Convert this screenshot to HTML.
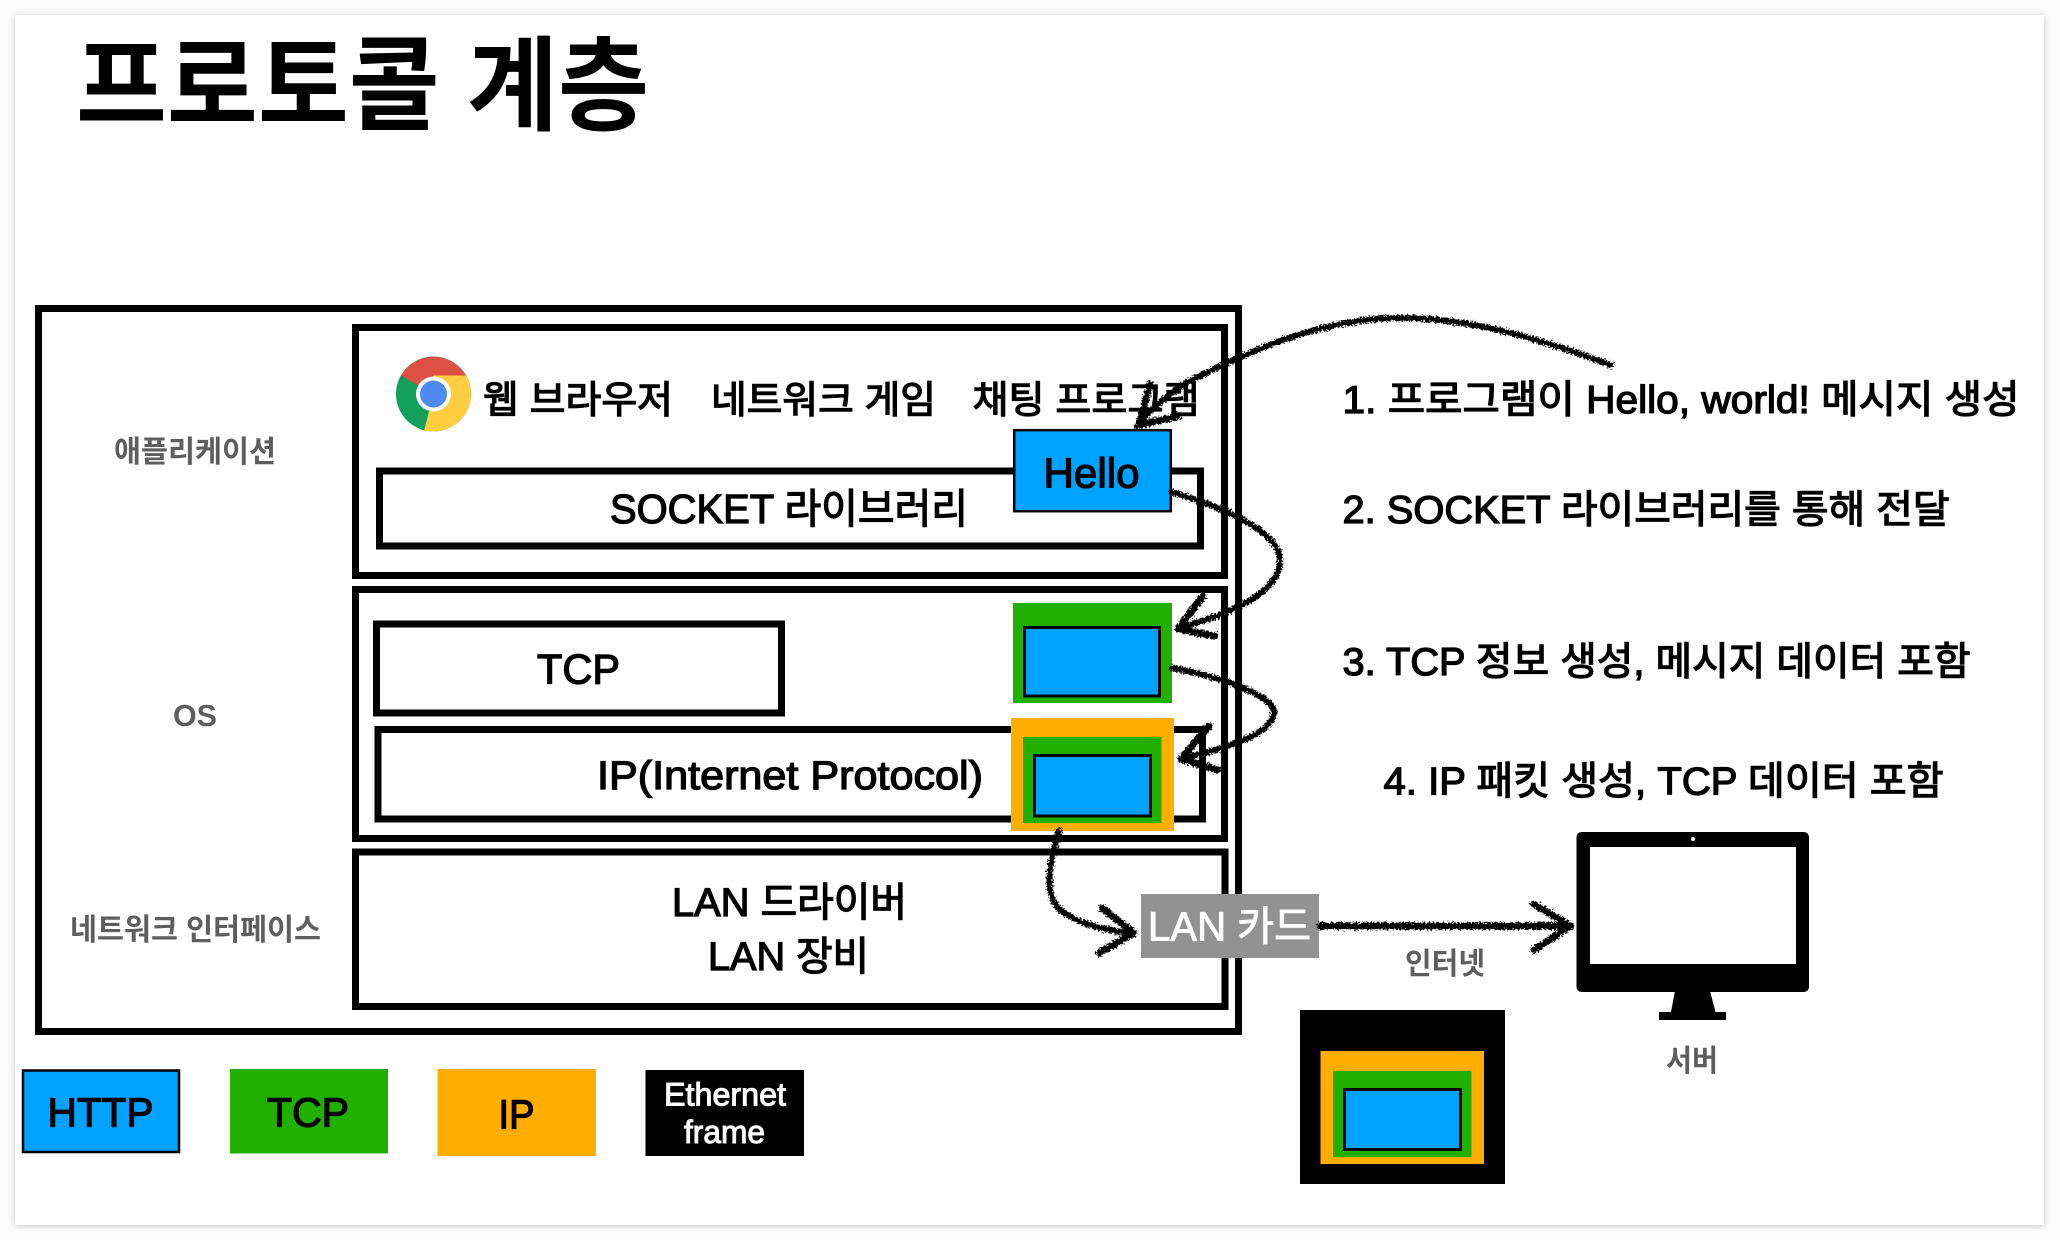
<!DOCTYPE html>
<html><head><meta charset="utf-8"><style>
html,body{margin:0;padding:0;background:#fbfbfb;width:2060px;height:1240px;overflow:hidden}
#card{position:absolute;left:15px;top:15px;width:2029px;height:1210px;background:#fff;box-shadow:0 1px 6px rgba(0,0,0,.22)}
svg{position:absolute;left:0;top:0}
text{font-family:"Liberation Sans","Noto Sans CJK KR",sans-serif;fill:#000}
.m{stroke:#000;stroke-width:1.3px}
.g{fill:#5e5e5e;font-weight:700}
.w{fill:#fff;stroke:#fff;stroke-width:1px}
</style></head><body><div id="card"></div>
<svg width="2060" height="1240" viewBox="0 0 2060 1240" xmlns="http://www.w3.org/2000/svg">
<defs><filter id="r" x="-10%" y="-10%" width="120%" height="120%" filterUnits="objectBoundingBox">
<feTurbulence type="fractalNoise" baseFrequency="0.55" numOctaves="2" seed="4"/>
<feDisplacementMap in="SourceGraphic" scale="7" xChannelSelector="R" yChannelSelector="G"/>
</filter></defs>

<text x="76" y="122" font-size="103" font-weight="700" textLength="573" lengthAdjust="spacingAndGlyphs">프로토콜 계층</text>

<g fill="none" stroke="#000">
<rect x="38.5" y="308.5" width="1200" height="723" stroke-width="7"/>
<rect x="355.5" y="327.5" width="869" height="248" stroke-width="7"/>
<rect x="355.5" y="589.5" width="869" height="249" stroke-width="7"/>
<rect x="355.5" y="852" width="869.5" height="154.5" stroke-width="7"/>
<rect x="379.5" y="471" width="821" height="75" stroke-width="7"/>
<rect x="376.5" y="624" width="405" height="89" stroke-width="7"/>
<rect x="378" y="729.5" width="824.5" height="89.5" stroke-width="7"/>
</g>

<text class="g" x="114" y="462" font-size="30" textLength="162" lengthAdjust="spacingAndGlyphs">애플리케이션</text>
<text class="g" x="173" y="726" font-size="31" textLength="44" lengthAdjust="spacingAndGlyphs">OS</text>
<text class="g" x="70" y="940" font-size="30" textLength="251" lengthAdjust="spacingAndGlyphs">네트워크 인터페이스</text>

<!-- chrome icon -->
<g>
<circle cx="433.5" cy="394" r="37.5" fill="#12a05c"/>
<path d="M433.5 394 L401 375.5 A37.5 37.5 0 0 1 466 375.5 Z" fill="#dd5044"/>
<path d="M433.5 394 L466 375.5 A37.5 37.5 0 0 1 433.5 431.5 L433.5 431.5 Z" fill="#ffcd40"/>
<path d="M466 375.5 L433 375.5 L433.5 394 Z" fill="#ffcd40"/>
<path d="M433.5 431.5 L449 405 L433.5 394 L424 431 Z" fill="#ffcd40"/>
<circle cx="433.5" cy="394" r="17.5" fill="#fff"/>
<circle cx="433.5" cy="394" r="13.5" fill="#4d8bf0"/>
</g>

<text class="m" x="483" y="413" font-size="38" textLength="190" lengthAdjust="spacingAndGlyphs">웹 브라우저</text>
<text class="m" x="711" y="413" font-size="38" textLength="225" lengthAdjust="spacingAndGlyphs">네트워크 게임</text>
<text class="m" x="972.5" y="413" font-size="38" textLength="227" lengthAdjust="spacingAndGlyphs">채팅 프로그램</text>

<text class="m" x="610" y="523" font-size="41" textLength="358" lengthAdjust="spacingAndGlyphs">SOCKET 라이브러리</text>
<rect x="1014.2" y="430.2" width="156.6" height="81" fill="#00a2ff" stroke="#000" stroke-width="2.5"/>
<text class="m" x="1043.5" y="487.5" font-size="42" textLength="96" lengthAdjust="spacingAndGlyphs">Hello</text>

<text class="m" x="537" y="683.5" font-size="42" textLength="83" lengthAdjust="spacingAndGlyphs">TCP</text>
<text class="m" x="597" y="789" font-size="40" textLength="386" lengthAdjust="spacingAndGlyphs">IP(Internet Protocol)</text>

<rect x="1013" y="603" width="159" height="100" fill="#21b000"/>
<rect x="1024.5" y="627.5" width="135" height="68.5" fill="#00a2ff" stroke="#000" stroke-width="3"/>

<rect x="1011" y="718" width="163" height="113" fill="#ffae00"/>
<rect x="1023" y="737" width="138.5" height="86" fill="#21b000"/>
<rect x="1034.5" y="755.5" width="116" height="60.5" fill="#00a2ff" stroke="#000" stroke-width="3"/>

<text class="m" x="672" y="916" font-size="40" textLength="235" lengthAdjust="spacingAndGlyphs">LAN 드라이버</text>
<text class="m" x="708" y="970" font-size="40" textLength="161" lengthAdjust="spacingAndGlyphs">LAN 장비</text>

<rect x="1141" y="894" width="178" height="64" fill="#929292"/>
<text class="w" x="1148" y="940.5" font-size="41" textLength="163" lengthAdjust="spacingAndGlyphs">LAN 카드</text>

<text class="m" x="1342.5" y="413" font-size="39" textLength="677" lengthAdjust="spacingAndGlyphs">1. 프로그램이 Hello, world! 메시지 생성</text>
<text class="m" x="1342.5" y="523" font-size="39" textLength="607" lengthAdjust="spacingAndGlyphs">2. SOCKET 라이브러리를 통해 전달</text>
<text class="m" x="1342.5" y="675" font-size="39" textLength="628" lengthAdjust="spacingAndGlyphs">3. TCP 정보 생성, 메시지 데이터 포함</text>
<text class="m" x="1383.5" y="794.5" font-size="39" textLength="560" lengthAdjust="spacingAndGlyphs">4. IP 패킷 생성, TCP 데이터 포함</text>

<!-- monitor -->
<rect x="1576.5" y="832" width="232.5" height="160" rx="5" fill="#000"/>
<rect x="1590" y="847" width="206" height="117" fill="#fff"/>
<circle cx="1693" cy="839" r="2" fill="#fff"/>
<path d="M1675 991 L1710 991 L1715.5 1012 L1726 1012 L1726 1020 L1659 1020 L1659 1012 L1671 1012 Z" fill="#000"/>
<text class="g" x="1405" y="974" font-size="30" textLength="80" lengthAdjust="spacingAndGlyphs">인터넷</text>
<text class="g" x="1666" y="1071" font-size="30" textLength="52" lengthAdjust="spacingAndGlyphs">서버</text>

<!-- frame -->
<rect x="1300" y="1010" width="205" height="174" fill="#000"/>
<rect x="1320.5" y="1051" width="163.5" height="113" fill="#ffae00"/>
<rect x="1333" y="1071" width="138.5" height="86" fill="#21b000"/>
<rect x="1344.5" y="1089.5" width="116" height="60" fill="#00a2ff" stroke="#000" stroke-width="3"/>

<!-- legend -->
<rect x="23" y="1070.5" width="156" height="81.5" fill="#00a2ff" stroke="#000" stroke-width="2.5"/>
<text class="m" x="47.5" y="1126.5" font-size="41" textLength="106" lengthAdjust="spacingAndGlyphs">HTTP</text>
<rect x="230" y="1069" width="158" height="84.5" fill="#21b000"/>
<text class="m" x="267" y="1126.5" font-size="41" textLength="82" lengthAdjust="spacingAndGlyphs">TCP</text>
<rect x="437.5" y="1069" width="158.5" height="87" fill="#ffae00"/>
<text class="m" x="498.5" y="1128.5" font-size="41" textLength="36" lengthAdjust="spacingAndGlyphs">IP</text>
<rect x="645.5" y="1070" width="158.5" height="86" fill="#000"/>
<text class="w" x="664" y="1105.5" font-size="32" textLength="122" lengthAdjust="spacingAndGlyphs">Ethernet</text>
<text class="w" x="684" y="1143" font-size="32" textLength="81" lengthAdjust="spacingAndGlyphs">frame</text>

<!-- sketch arrows -->
<g fill="none" stroke="#000" stroke-width="6" stroke-linecap="round" stroke-linejoin="round" filter="url(#r)">
<path d="M1611 365 C1548 342 1470 316 1393 318 C1320 320 1250 350 1186 383 C1165 396 1150 410 1137 426"/>
<path d="M1150 384 L1139 425 L1179 416" stroke-width="7"/>
<path d="M1172 492 C1215 505 1281 530 1280 561 C1279 595 1225 615 1180 628"/>
<path d="M1203 596 L1178 629 L1215 636" stroke-width="7"/>
<path d="M1172 668 C1215 675 1274 695 1274 712 C1274 735 1220 750 1184 758"/>
<path d="M1209 726 L1181 759 L1218 770" stroke-width="7"/>
<path d="M1059 831 C1050 860 1046 885 1053 900 C1062 920 1100 930 1132 933"/>
<path d="M1102 908 L1134 933 L1099 953" stroke-width="7"/>
<path d="M1320 926 L1566 926" stroke-width="7"/>
<path d="M1534 904 L1570 926 L1534 950" stroke-width="7"/>
</g>
</svg></body></html>
